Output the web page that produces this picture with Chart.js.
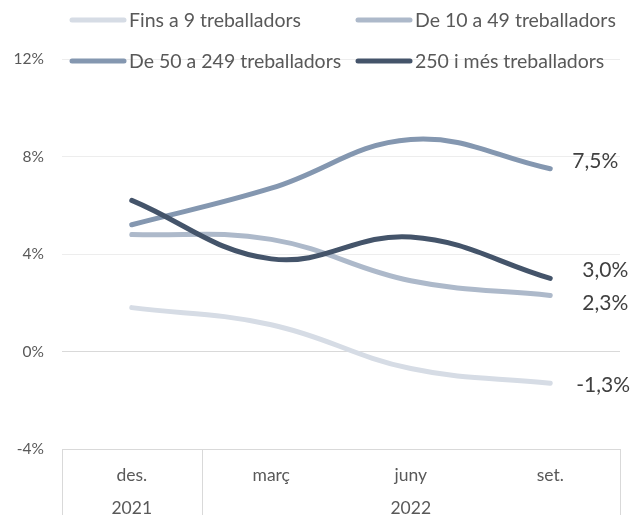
<!DOCTYPE html>
<html>
<head>
<meta charset="utf-8">
<script src="https://cdn.jsdelivr.net/npm/chart.js@4.4.0/dist/chart.umd.min.js"></script>
<style>
  html, body { margin: 0; padding: 0; background: #fff; }
  #wrap { width: 633px; height: 515px; }
</style>
</head>
<body>
<div id="wrap"><canvas id="myChart"></canvas></div>
<script>
// dades
var mesos = ['des.', 'març', 'juny', 'set.'];
var anys = ['2021', '2022'];
var mesosPerAny = [1, 3];
var nomsSeries = ['Fins a 9 treballadors', 'De 10 a 49 treballadors', 'De 50 a 249 treballadors', '250 i més treballadors'];
var fins9 = [1.8, 1.1, -0.7, -1.3];
var de10a49 = [4.8, 4.6, 2.9, 2.3];
var de50a249 = [5.2, 6.7, 8.7, 7.5];
var mes250 = [6.2, 3.8, 4.7, 3.0];
var yTicks = [-4, 0, 4, 8, 12];

var colors = ['#d6dce5', '#adb9ca', '#8497b0', '#44546a'];
var font = 'Lato';

function fmt(v) {
    return v.toFixed(1).replace('.', ',') + '%';
}

function serie(i, valors, dx, dy) {
    return {
        label: nomsSeries[i],
        data: valors,
        borderColor: colors[i],
        backgroundColor: colors[i],
        borderWidth: 5,
        borderCapStyle: 'round',
        borderJoinStyle: 'round',
        pointRadius: 0,
        tension: 0.4,
        order: 3 - i,
        labelDx: dx,
        labelDy: dy
    };
}

// llegenda en dues columnes
var llegenda = {
    id: 'llegenda',
    afterDraw: function (chart) {
        var ctx = chart.ctx;
        var cols = [72, 358];
        var files = [20, 61];
        ctx.save();
        ctx.font = '19.5px ' + font;
        ctx.textBaseline = 'middle';
        ctx.lineCap = 'round';
        ctx.lineWidth = 5;
        chart.data.datasets.forEach(function (ds, i) {
            var x = cols[i % 2], y = files[Math.floor(i / 2)];
            ctx.strokeStyle = ds.borderColor;
            ctx.beginPath();
            ctx.moveTo(x, y);
            ctx.lineTo(x + 52, y);
            ctx.stroke();
            ctx.fillStyle = '#595959';
            ctx.fillText(ds.label, x + 57, y + 1);
        });
        ctx.restore();
    }
};

// etiquetes al final de cada línia
var etiquetes = {
    id: 'etiquetes',
    afterDatasetsDraw: function (chart) {
        var ctx = chart.ctx;
        ctx.save();
        ctx.font = '21px ' + font;
        ctx.fillStyle = '#404040';
        ctx.textBaseline = 'middle';
        chart.data.datasets.forEach(function (ds, i) {
            var meta = chart.getDatasetMeta(i);
            var n = ds.data.length - 1;
            var p = meta.data[n];
            ctx.fillText(fmt(ds.data[n]), p.x + ds.labelDx, p.y + ds.labelDy);
        });
        ctx.restore();
    }
};

// eix de categories en dos nivells (mesos / anys)
var eixAnys = {
    id: 'eixAnys',
    afterDraw: function (chart) {
        var ctx = chart.ctx;
        var area = chart.chartArea;
        var sx = chart.scales.x;
        var amplada = (area.right - area.left) / mesos.length;
        var dalt = area.bottom, baix = chart.height;
        ctx.save();
        ctx.strokeStyle = '#d9d9d9';
        ctx.lineWidth = 1;
        ctx.font = '17.5px ' + font;
        ctx.fillStyle = '#595959';
        ctx.textAlign = 'center';
        ctx.textBaseline = 'middle';
        var inici = 0;
        for (var i = 0; i <= anys.length; i++) {
            var xl = Math.round(sx.getPixelForValue(inici) - amplada / 2) + 0.5;
            ctx.beginPath();
            ctx.moveTo(xl, dalt);
            ctx.lineTo(xl, baix);
            ctx.stroke();
            if (i < anys.length) {
                var fi = inici + mesosPerAny[i] - 1;
                var xc = (sx.getPixelForValue(inici) + sx.getPixelForValue(fi)) / 2;
                ctx.fillText(anys[i], xc, 508);
                inici += mesosPerAny[i];
            }
        }
        ctx.restore();
    }
};

var chartArea = document.getElementById('myChart').getContext('2d');
var myChart = new Chart(chartArea, {
    type: 'line',
    data: {
        labels: mesos,
        datasets: [
            serie(0, fins9, 26, 2),
            serie(1, de10a49, 32, 8),
            serie(2, de50a249, 22, -7),
            serie(3, mes250, 32, -8)
        ]
    },
    options: {
        responsive: true,
        maintainAspectRatio: false,
        animation: false,
        layout: { padding: { top: 59, right: 13, left: 0, bottom: 0 } },
        plugins: {
            legend: { display: false },
            tooltip: { enabled: false }
        },
        scales: {
            x: {
                offset: true,
                grid: { display: false },
                border: { display: false },
                ticks: { font: { family: font, size: 17.5 }, color: '#595959', padding: 8 },
                afterFit: function (s) { s.height = 66; }
            },
            y: {
                min: -4,
                max: 12,
                afterBuildTicks: function (s) {
                    s.ticks = yTicks.map(function (v) { return { value: v }; });
                },
                ticks: {
                    font: { family: font, size: 15.5 },
                    color: '#595959',
                    padding: 18,
                    callback: function (v) { return v + '%'; }
                },
                grid: {
                    drawTicks: false,
                    color: function (c) {
                        if (c.tick.value === 0 || c.tick.value === -4) return '#d9d9d9';
                        return '#ededed';
                    }
                },
                border: { display: false },
                afterFit: function (s) { s.width = 62; }
            }
        }
    },
    plugins: [eixAnys, etiquetes, llegenda]
});
</script>
</body>
</html>
